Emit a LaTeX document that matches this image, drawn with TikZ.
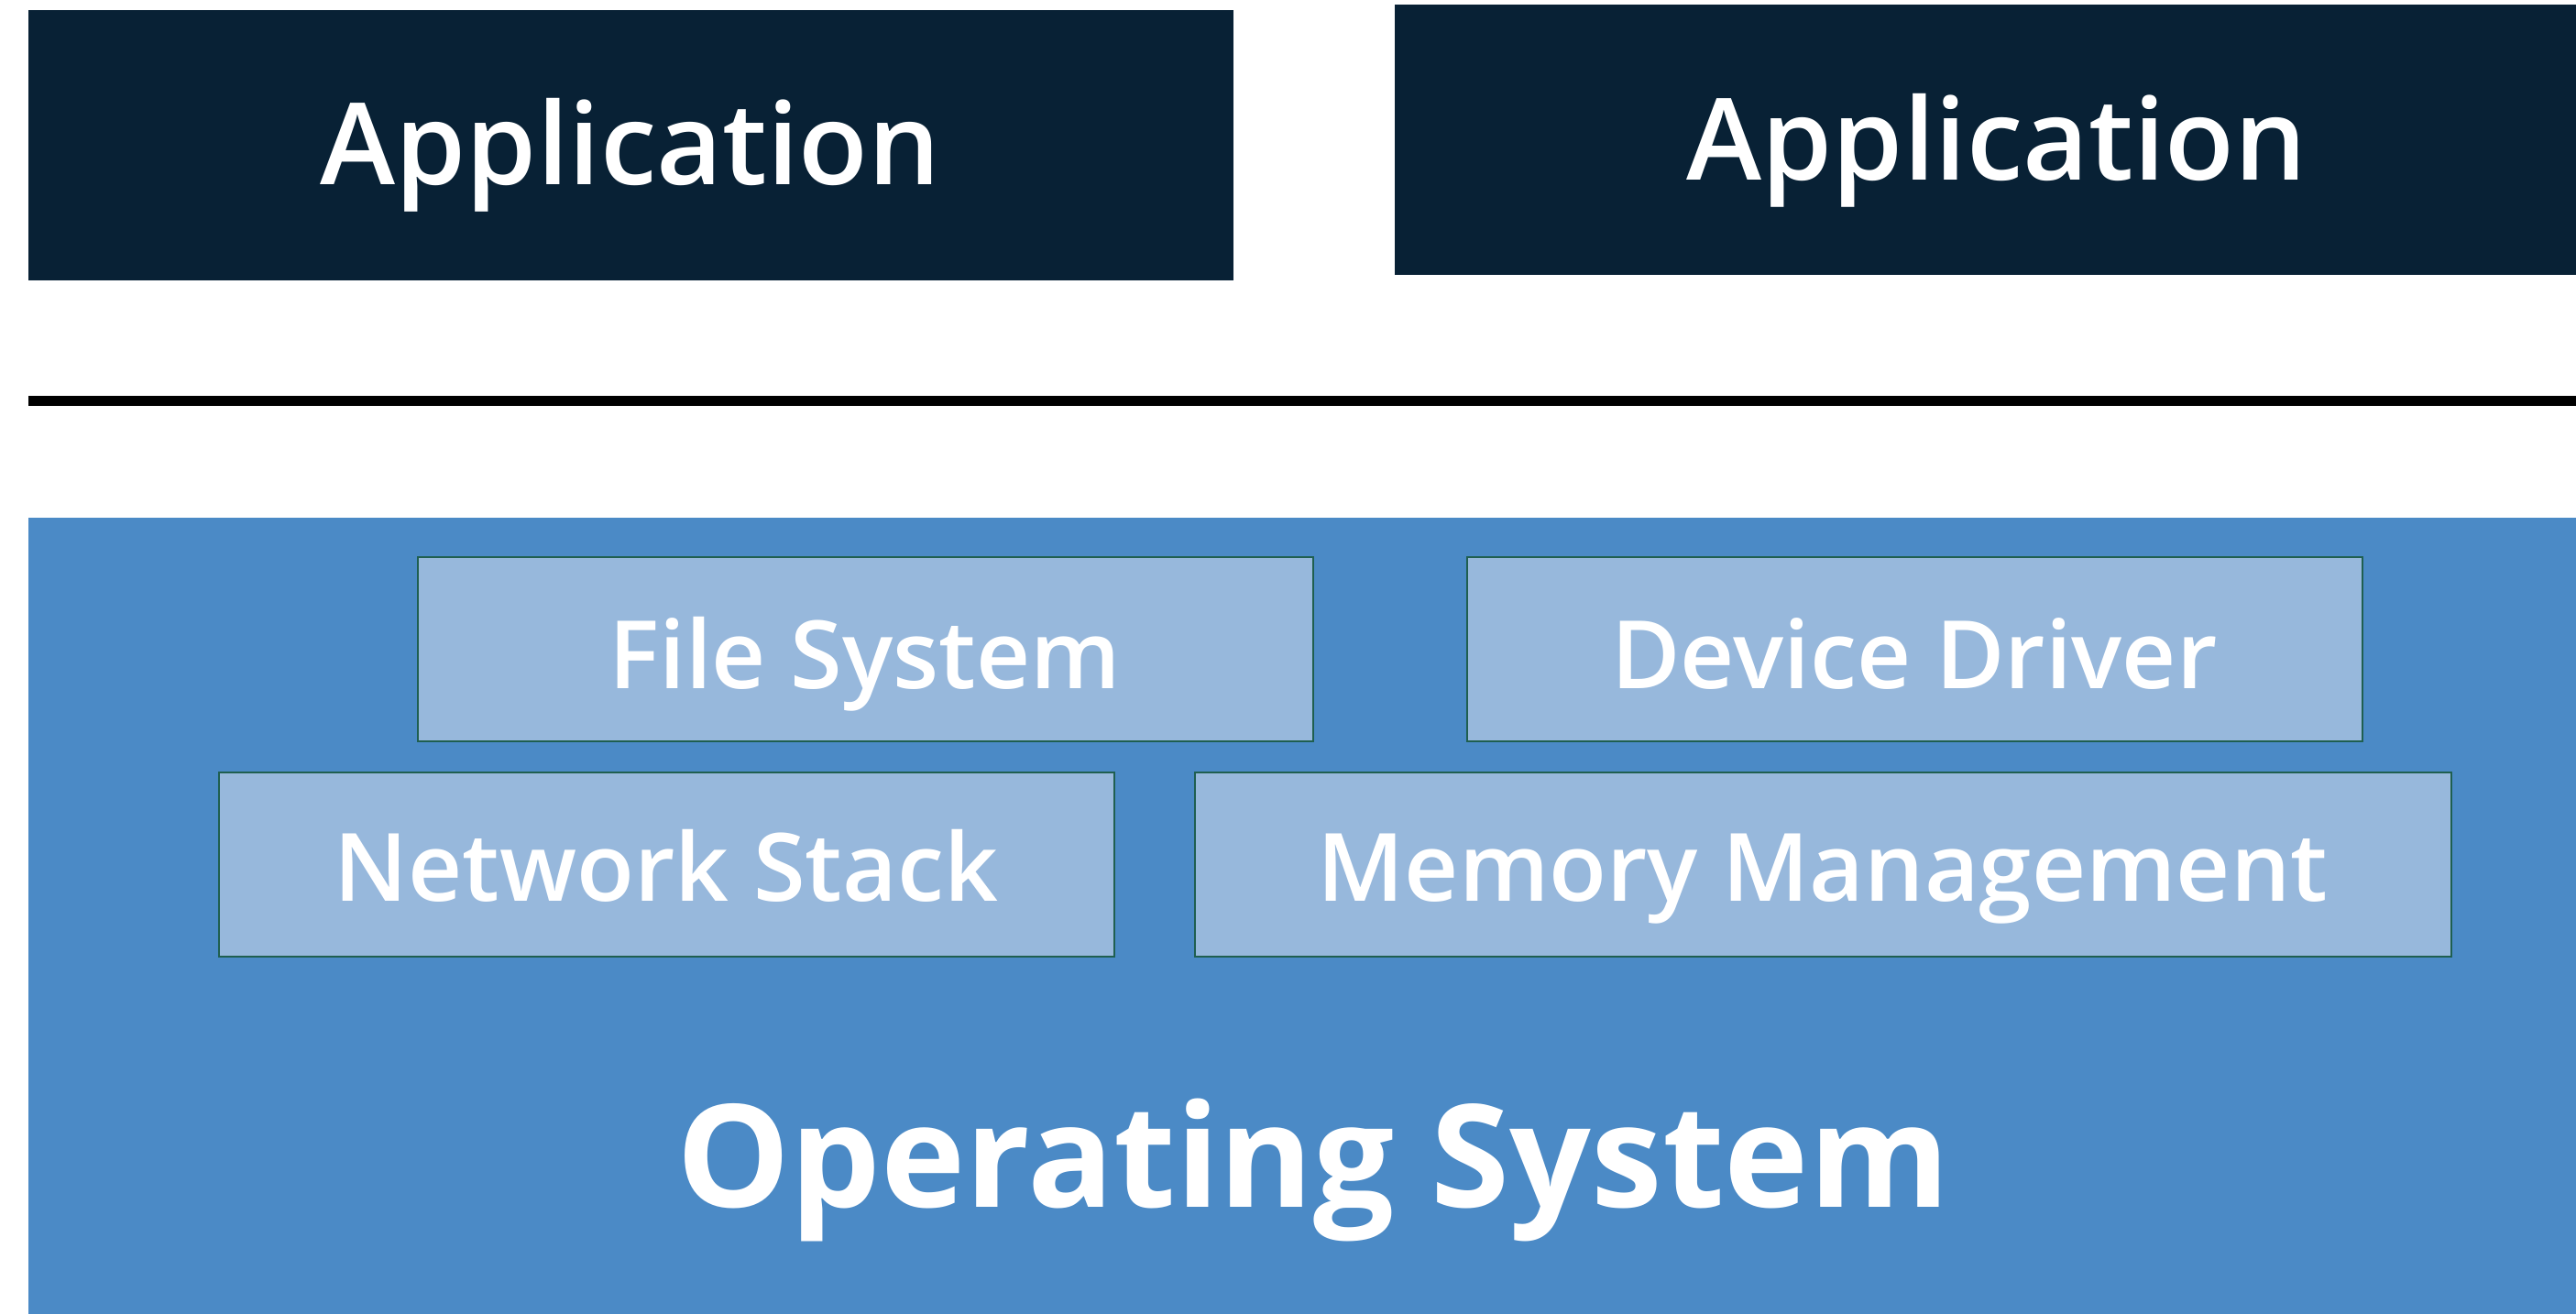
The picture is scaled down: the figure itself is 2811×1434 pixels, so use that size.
\documentclass[tikz,border=0pt]{standalone}
\usepackage{fontspec}
\setmainfont{Open Sans}
\IfFontExistsTF{Open Sans SemiBold}{\newfontfamily\semifont{Open Sans SemiBold}}{%
  \IfFontExistsTF{Open Sans Semibold}{\newfontfamily\semifont{Open Sans Semibold}}{%
    \newfontfamily\semifont[FakeBold=0.8]{Open Sans}}}
\newfontfamily\boldfont{Open Sans Bold}
\definecolor{appfill}{HTML}{082135}
\definecolor{osfill}{HTML}{4B8AC6}
\definecolor{partfill}{HTML}{97B8DC}
\definecolor{partline}{HTML}{1F5F50}
\begin{document}
\begin{tikzpicture}[x=1pt,y=-1pt,
  appbox/.style={fill=appfill,draw=none},
  partbox/.style={fill=partfill,draw=partline,line width=2pt},
  applabel/.style={text=white,anchor=base,inner sep=0pt,font=\semifont\fontsize{124}{124}\selectfont},
  partlabel/.style={text=white,anchor=base,inner sep=0pt,font=\semifont\fontsize{103}{103}\selectfont},
  oslabel/.style={text=white,anchor=base,inner sep=0pt,font=\boldfont\fontsize{156}{156}\selectfont}]
\useasboundingbox (0,0) rectangle (2811,1434);
% application layer
\path[appbox] (31,11) rectangle (1346,306);
\node[applabel] (app1) at (688,202) {Application};
\path[appbox] (1522,5) rectangle (2837,300);
\node[applabel] (app2) at (2179,197) {Application};
% separator
\coordinate (sepL) at (31,437);
\coordinate (sepR) at (2830,437);
\draw[line width=11pt,black] (sepL) -- (sepR);
% operating system
\path[fill=osfill] (31,565) rectangle (2840,1450);
\draw[partbox] (456,608) rectangle (1433,809);
\node[partlabel] (fs) at (944,751) {File System};
\draw[partbox] (1601,608) rectangle (2578,809);
\node[partlabel] (dd) at (2089,751) {Device Driver};
\draw[partbox] (239,843) rectangle (1216,1044);
\node[partlabel] (ns) at (727,983) {Network Stack};
\draw[partbox] (1304,843) rectangle (2675,1044);
\node[partlabel] (mm) at (1989,983) {Memory Management};
\node[oslabel] (os) at (1433,1317) {Operating System};
\end{tikzpicture}
\end{document}
